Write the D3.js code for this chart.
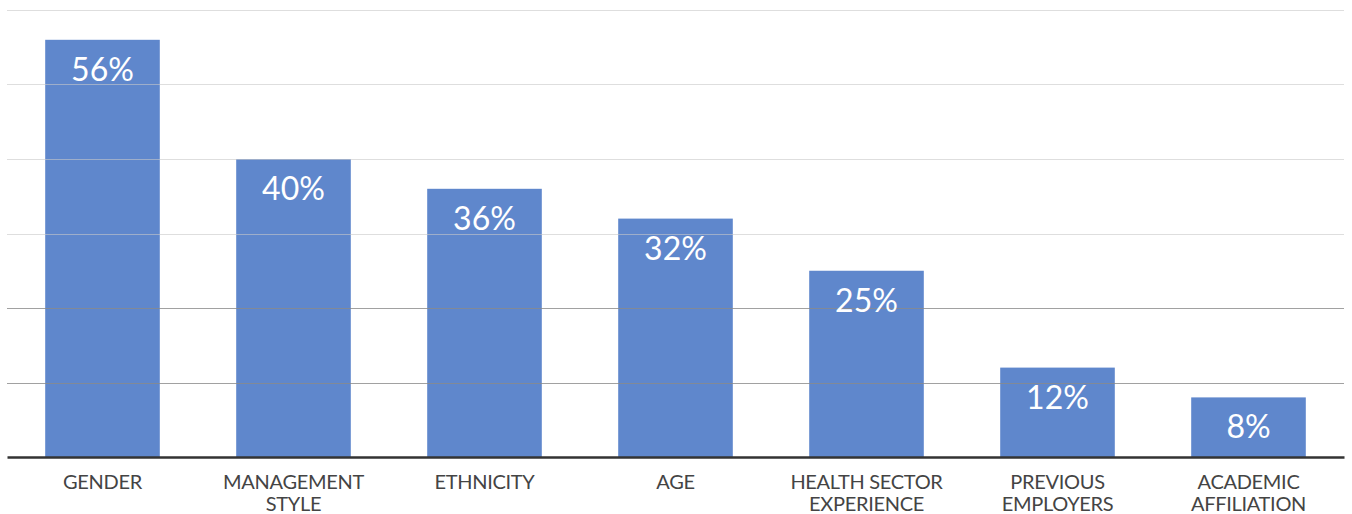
<!DOCTYPE html>
<html>
<head>
<meta charset="utf-8">
<script src="https://cdn.jsdelivr.net/npm/d3@7"></script>
<style>
  body { margin: 0; background: #fff; }
  #chart text { font-family: Lato, "Open Sans", sans-serif; }
</style>
</head>
<body>
<div id="chart"></div>
<script>
(function() {
  // chart values
  var categories = [
    ["GENDER"],
    ["MANAGEMENT", "STYLE"],
    ["ETHNICITY"],
    ["AGE"],
    ["HEALTH SECTOR", "EXPERIENCE"],
    ["PREVIOUS", "EMPLOYERS"],
    ["ACADEMIC", "AFFILIATION"]
  ]
  var values = [56, 40, 36, 32, 25, 12, 8]
  var gridTicks = [10, 20, 30, 40, 50, 60]

  var margin = {top: 10, right: 8, bottom: 57, left: 7}
  var width = 1352 - margin.left - margin.right,
      height = 514 - margin.top - margin.bottom

  var svg = d3.select("#chart")
      .append("svg")
      .attr("width", width + margin.left + margin.right)
      .attr("height", height + margin.top + margin.bottom)
      .append("g")
      .attr("transform", "translate(" + margin.left + "," + margin.top + ")")

  var keys = categories.map(d => d.join(" "))

  var xPositionScale = d3.scaleBand().domain(keys).range([0, width])
    .paddingInner(0.4).paddingOuter(0.2)
  var yPositionScale = d3.scaleLinear().domain([0, 60]).range([height, 0])

  var data = values.map((v, i) => ({key: keys[i], lines: categories[i], value: v}))

  // bars
  svg.selectAll(".bar")
    .data(data)
    .enter().append("rect")
    .attr("class", "bar")
    .attr("x", d => xPositionScale(d.key))
    .attr("y", d => yPositionScale(d.value))
    .attr("width", xPositionScale.bandwidth())
    .attr("height", d => height - yPositionScale(d.value))
    .attr("fill", "#5f87cc")

  // gridlines drawn over the bars
  svg.selectAll(".grid")
    .data(gridTicks)
    .enter().append("line")
    .attr("class", "grid")
    .attr("x1", 0)
    .attr("x2", width)
    .attr("y1", d => Math.round(yPositionScale(d)) + 0.5)
    .attr("y2", d => Math.round(yPositionScale(d)) + 0.5)
    .attr("stroke", d => d <= 20 ? "#8a8a8a" : "#c8c8c8")
    .attr("stroke-opacity", d => d <= 20 ? 0.8 : 0.6)
    .attr("stroke-width", 1.2)

  // value labels
  svg.selectAll(".value")
    .data(data)
    .enter().append("text")
    .attr("class", "value")
    .attr("x", d => xPositionScale(d.key) + xPositionScale.bandwidth() / 2)
    .attr("y", d => yPositionScale(d.value) + 41)
    .attr("text-anchor", "middle")
    .attr("fill", "#fff")
    .attr("font-size", 32)
    .text(d => d.value + "%")

  // baseline axis
  var xAxis = d3.axisBottom(xPositionScale).tickSize(0).tickFormat("")
  var axisG = svg.append("g")
    .attr("class", "axis x-axis")
    .attr("transform", "translate(0," + height + ")")
    .call(xAxis)
  axisG.select(".domain").attr("stroke", "#333").attr("stroke-width", 2.5)

  // category labels
  var labels = svg.selectAll(".cat")
    .data(data)
    .enter().append("text")
    .attr("class", "cat")
    .attr("text-anchor", "middle")
    .attr("fill", "#444")
    .attr("font-size", 20)
    .attr("letter-spacing", -0.3)
    .attr("transform", d => "translate(" + (xPositionScale(d.key) + xPositionScale.bandwidth() / 2) + "," + (height + 32) + ")")

  labels.selectAll("tspan")
    .data(d => d.lines)
    .enter().append("tspan")
    .attr("x", 0)
    .attr("dy", (d, i) => i === 0 ? 0 : 22)
    .text(d => d)
})()
</script>
</body>
</html>
